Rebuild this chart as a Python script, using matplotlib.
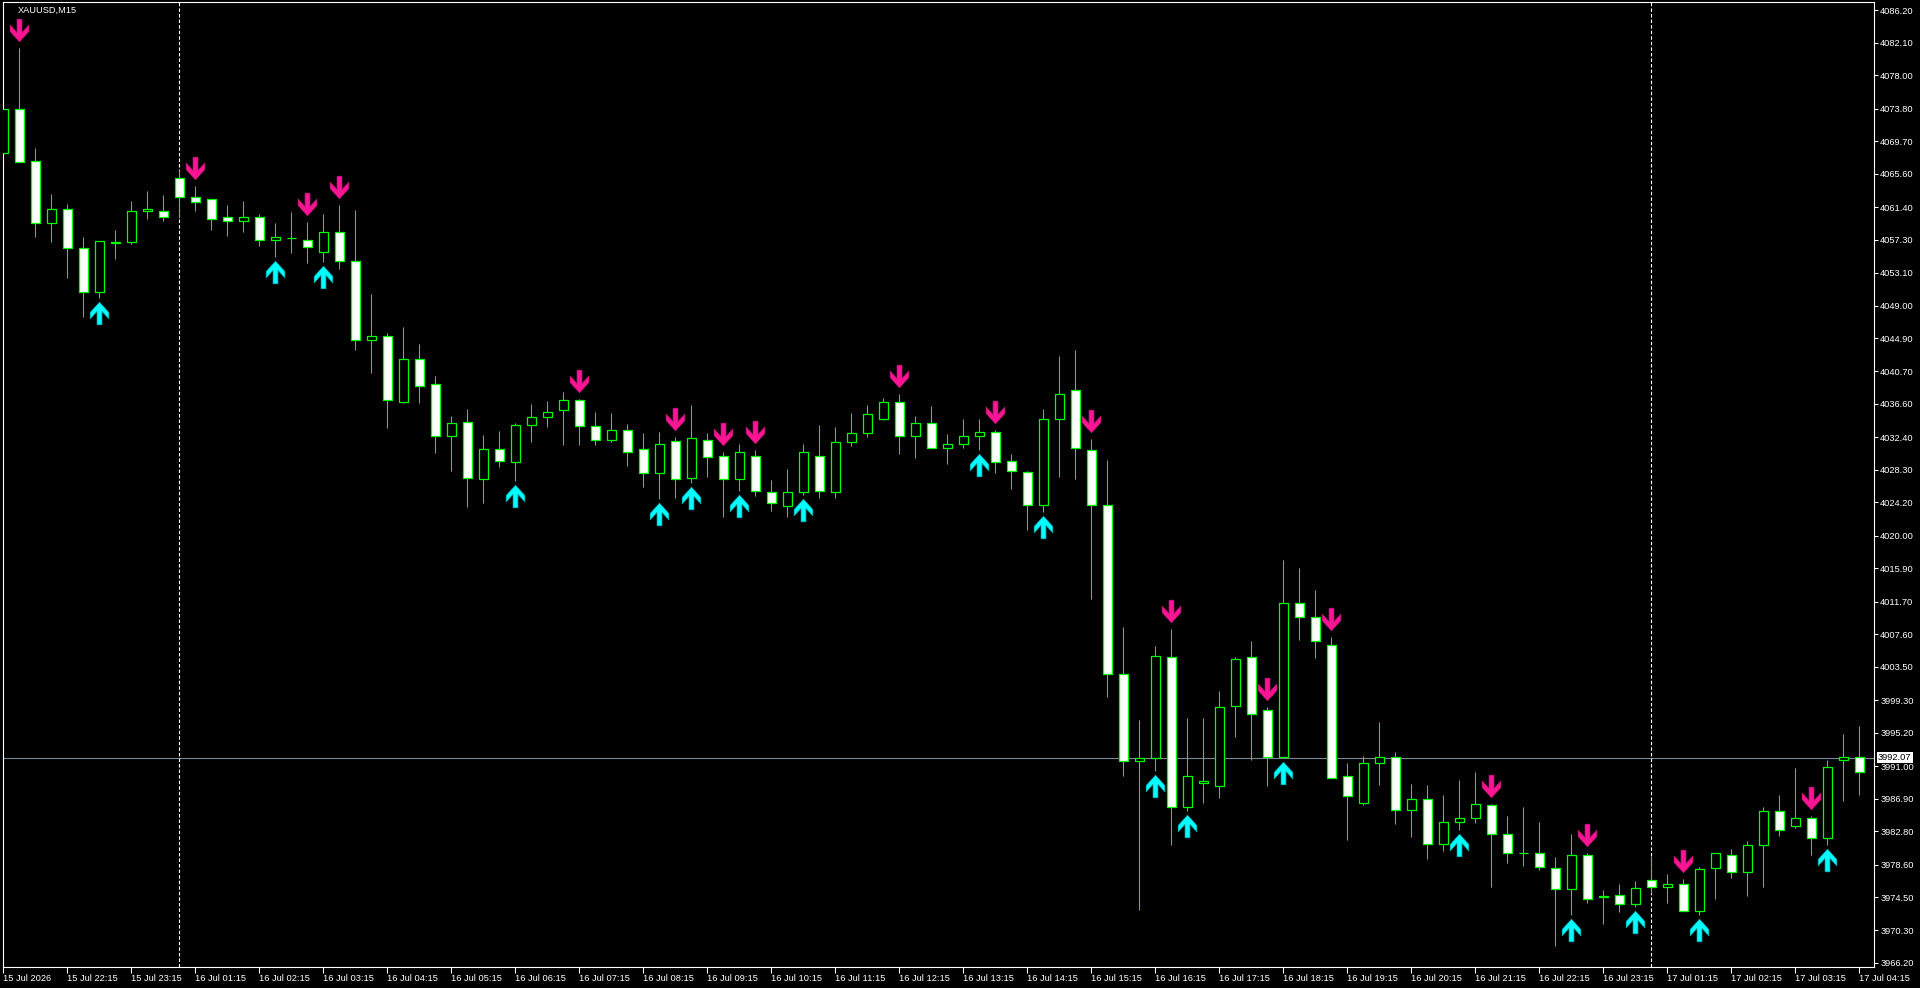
import matplotlib
matplotlib.use('Agg')
import matplotlib.pyplot as plt
import numpy as np
from matplotlib.path import Path
from matplotlib.transforms import offset_copy

plt.rcParams['font.family'] = ['Liberation Sans', 'DejaVu Sans']
plt.rcParams['lines.scale_dashes'] = False

symbol = 'XAUUSD,M15'

# OHLC of the M15 bars
opens = [4068.2, 4073.8, 4067.2, 4059.4, 4061.2, 4056.2, 4050.7, 4056.9, 4057.0, 4060.9,
         4060.9, 4065.0, 4062.7, 4062.4, 4060.1, 4059.7, 4060.2, 4057.3, 4057.5, 4057.3,
         4055.8, 4058.2, 4054.6, 4044.7, 4045.2, 4036.9, 4042.3, 4039.1, 4032.6, 4034.3,
         4027.2, 4030.9, 4029.3, 4034.0, 4035.0, 4035.8, 4037.1, 4033.8, 4032.1, 4033.3,
         4030.9, 4027.9, 4031.9, 4027.3, 4032.1, 4030.0, 4027.1, 4030.0, 4025.5, 4023.8,
         4025.5, 4030.1, 4025.5, 4031.8, 4033.0, 4034.7, 4036.8, 4032.6, 4034.2, 4031.1,
         4031.6, 4032.6, 4033.1, 4029.4, 4028.0, 4023.9, 4034.7, 4038.3, 4030.8, 4023.9,
         4002.6, 3991.6, 3992.0, 4004.7, 3985.8, 3988.9, 3988.5, 3998.6, 4004.7, 3998.1,
         3992.2, 4011.5, 4009.8, 4006.3, 3989.7, 3986.4, 3991.4, 3992.1, 3985.5, 3986.9,
         3981.2, 3983.9, 3984.5, 3986.1, 3982.4, 3980.0, 3980.0, 3978.2, 3975.5, 3979.8,
         3974.5, 3974.8, 3973.6, 3976.7, 3975.8, 3976.1, 3972.7, 3978.1, 3979.8, 3977.7,
         3981.1, 3985.3, 3983.5, 3984.5, 3981.9, 3991.7, 3992.1]
highs = [4074.9, 4081.4, 4068.8, 4063.1, 4061.8, 4057.6, 4057.1, 4058.5, 4062.2, 4063.4,
         4062.9, 4066.1, 4064.1, 4062.4, 4061.7, 4062.2, 4060.5, 4059.4, 4060.8, 4059.5,
         4060.5, 4061.7, 4061.0, 4050.4, 4045.5, 4046.3, 4044.1, 4040.1, 4035.1, 4036.0,
         4032.7, 4033.2, 4034.2, 4036.6, 4037.0, 4038.1, 4037.2, 4035.6, 4035.5, 4034.1,
         4032.9, 4033.1, 4032.4, 4036.5, 4032.9, 4030.5, 4031.5, 4030.8, 4027.0, 4028.4,
         4031.6, 4034.0, 4033.7, 4035.5, 4036.5, 4037.4, 4037.8, 4035.1, 4036.3, 4032.8,
         4034.7, 4034.7, 4033.3, 4030.3, 4028.1, 4036.0, 4042.6, 4043.4, 4032.2, 4029.5,
         4008.5, 3996.8, 4006.1, 4008.2, 3997.0, 3997.1, 4000.5, 4004.7, 4006.7, 3998.5,
         4016.9, 4015.9, 4013.2, 4007.3, 3991.4, 3992.3, 3996.6, 3992.8, 3988.7, 3988.6,
         3987.4, 3989.2, 3990.3, 3986.2, 3984.7, 3985.8, 3983.9, 3979.5, 3982.5, 3980.0,
         3975.4, 3976.1, 3976.5, 3979.7, 3977.4, 3976.8, 3978.3, 3980.1, 3980.5, 3981.5,
         3985.8, 3987.3, 3990.8, 3984.7, 3991.7, 3995.0, 3996.1]
lows = [4066.5, 4067.1, 4057.6, 4057.0, 4052.5, 4047.5, 4050.0, 4054.9, 4056.7, 4059.9,
        4059.6, 4060.0, 4060.9, 4058.5, 4057.8, 4058.3, 4056.5, 4055.1, 4055.6, 4054.3,
        4054.5, 4053.6, 4043.4, 4040.5, 4033.6, 4036.7, 4036.7, 4030.4, 4028.1, 4023.6,
        4024.1, 4028.7, 4026.9, 4031.8, 4033.7, 4031.4, 4031.4, 4031.4, 4031.8, 4028.8,
        4026.2, 4024.6, 4024.7, 4026.6, 4027.4, 4022.4, 4025.7, 4025.0, 4023.1, 4022.4,
        4025.1, 4024.8, 4024.8, 4031.3, 4032.5, 4034.6, 4030.3, 4029.8, 4031.1, 4029.0,
        4031.1, 4030.8, 4027.9, 4025.9, 4020.7, 4023.0, 4027.4, 4027.1, 4012.1, 3999.7,
        3989.8, 3972.9, 3990.4, 3981.0, 3985.3, 3986.3, 3987.0, 3994.6, 3991.7, 3988.5,
        3992.0, 4006.9, 4004.6, 3989.5, 3981.7, 3986.1, 3988.6, 3983.7, 3982.1, 3979.3,
        3980.3, 3982.9, 3983.8, 3975.8, 3978.8, 3978.4, 3977.9, 3968.4, 3972.3, 3973.8,
        3971.1, 3972.6, 3973.3, 3975.0, 3973.8, 3972.7, 3972.3, 3974.2, 3976.9, 3974.6,
        3975.8, 3982.2, 3983.2, 3979.8, 3981.1, 3986.6, 3987.4]
closes = [4073.8, 4067.1, 4059.4, 4061.2, 4056.2, 4050.7, 4057.1, 4057.0, 4060.9, 4061.2,
          4060.1, 4062.7, 4062.1, 4059.9, 4059.7, 4060.1, 4057.2, 4057.6, 4057.5, 4056.4,
          4058.2, 4054.6, 4044.7, 4045.2, 4037.1, 4042.3, 4038.9, 4032.6, 4034.2, 4027.3,
          4030.9, 4029.4, 4034.0, 4035.0, 4035.6, 4037.1, 4033.8, 4032.1, 4033.3, 4030.6,
          4027.9, 4031.5, 4027.2, 4032.3, 4029.9, 4027.1, 4030.5, 4025.7, 4024.1, 4025.5,
          4030.5, 4025.7, 4031.8, 4033.0, 4035.3, 4036.8, 4032.6, 4034.2, 4031.1, 4031.6,
          4032.6, 4033.1, 4029.3, 4028.1, 4023.9, 4034.7, 4037.8, 4031.1, 4023.9, 4002.6,
          3991.6, 3992.0, 4004.9, 3985.8, 3989.7, 3989.1, 3998.5, 4004.5, 3997.6, 3992.2,
          4011.5, 4009.8, 4006.7, 3989.5, 3987.2, 3991.4, 3992.1, 3985.5, 3986.9, 3981.2,
          3983.9, 3984.5, 3986.2, 3982.5, 3980.0, 3980.0, 3978.3, 3975.5, 3979.8, 3974.3,
          3974.6, 3973.6, 3975.6, 3975.8, 3976.1, 3972.7, 3978.0, 3980.0, 3977.7, 3981.1,
          3985.3, 3983.0, 3984.5, 3981.9, 3990.9, 3992.1, 3990.3]

# bars where the indicator printed a signal
up_signals = [6, 17, 20, 32, 41, 43, 46, 50, 61, 65, 72, 74, 80, 91, 98, 102, 106, 114]
down_signals = [1, 12, 19, 21, 36, 42, 45, 47, 56, 62, 68, 73, 79, 83, 93, 99, 105, 113]

day_breaks = [11, 103]
time_labels = ['15 Jul 2026', '15 Jul 22:15', '15 Jul 23:15', '16 Jul 01:15', '16 Jul 02:15',
               '16 Jul 03:15', '16 Jul 04:15', '16 Jul 05:15', '16 Jul 06:15', '16 Jul 07:15',
               '16 Jul 08:15', '16 Jul 09:15', '16 Jul 10:15', '16 Jul 11:15', '16 Jul 12:15',
               '16 Jul 13:15', '16 Jul 14:15', '16 Jul 15:15', '16 Jul 16:15', '16 Jul 17:15',
               '16 Jul 18:15', '16 Jul 19:15', '16 Jul 20:15', '16 Jul 21:15', '16 Jul 22:15',
               '16 Jul 23:15', '17 Jul 01:15', '17 Jul 02:15', '17 Jul 03:15', '17 Jul 04:15']
price_ticks = [4086.20, 4082.10, 4078.00, 4073.80, 4069.70, 4065.60, 4061.40, 4057.30, 4053.10,
               4049.00, 4044.90, 4040.70, 4036.60, 4032.40, 4028.30, 4024.20, 4020.00, 4015.90,
               4011.70, 4007.60, 4003.50, 3999.30, 3995.20, 3991.00, 3986.90, 3982.80, 3978.60,
               3974.50, 3970.30, 3966.20]
last_price = 3992.07

o = np.array(opens)
h = np.array(highs)
l = np.array(lows)
c = np.array(closes)
x = np.arange(len(o))

fig = plt.figure(figsize=(19.2, 9.88), dpi=100, facecolor='black')
ax = fig.add_axes([2.7 / 1920, 21.3 / 988, 1871.3 / 1920, 964.4 / 988])
ax.set_facecolor('black')

# candles: bull = black body, bear = white body, green outline and wicks
green = '#00ff00'
bull = c > o
ax.vlines(x, l, h, color=green, lw=0.75, zorder=2)
ax.bar(x, np.abs(c - o), bottom=np.minimum(o, c), width=0.56,
       color=np.where(bull, 'black', 'white'), edgecolor=green, linewidth=0.9, zorder=3)

# price line + day separators
ax.axhline(last_price, color='#7a8896', lw=0.8, zorder=1)
for d in day_breaks:
    ax.axvline(d, color='white', lw=0.8, ls=(0, (2.5, 1.5)), zorder=1)

# signal arrows (shaft + chevron head)
verts = [(-2.5, 11.5), (2.5, 11.5), (2.5, -2.2), (9.5, 5.5), (9.5, -1.0), (0, -11.5),
         (-9.5, -1.0), (-9.5, 5.5), (-2.5, -2.2), (-2.5, 11.5)]
arrow_down = Path(verts, closed=True)
arrow_up = Path([(vx, -vy) for vx, vy in verts], closed=True)

down_trans = offset_copy(ax.transData, fig=fig, x=0, y=18, units='dots')
up_trans = offset_copy(ax.transData, fig=fig, x=0, y=-15, units='dots')
ax.plot(x[down_signals], h[down_signals], ls='none', marker=arrow_down, ms=16.3,
        mfc='#ff1493', mec='#c0107a', mew=0.5, transform=down_trans, zorder=4)
ax.plot(x[up_signals], l[up_signals], ls='none', marker=arrow_up, ms=16.3,
        mfc='#00ffff', mec='#00a8b0', mew=0.5, transform=up_trans, zorder=4)

ax.set_xlim(-0.0375, 116.92)
ax.set_ylim(3965.73, 4087.19)

ax.yaxis.tick_right()
ax.set_yticks(price_ticks)
ax.set_yticklabels([f'{p:.2f}' for p in price_ticks])
ax.tick_params(axis='y', colors='white', length=3, width=0.75, pad=1.5, labelsize=6.7)

ax.set_xticks(x[::4])
ax.set_xticklabels(time_labels)
ax.tick_params(axis='x', colors='white', length=4, width=0.75, pad=1.2, labelsize=6.7)
for t in ax.get_xticklabels():
    t.set_ha('left')

for s in ax.spines.values():
    s.set_color('white')
    s.set_linewidth(0.8)

# current price tag on the scale
ax.annotate(f'{last_price:.2f}', xy=(1, last_price), xycoords=('axes fraction', 'data'),
            xytext=(4, 0), textcoords='offset pixels', va='center', ha='left',
            color='black', fontsize=6.7,
            bbox=dict(boxstyle='square,pad=0.15', fc='white', ec='none'),
            annotation_clip=False, zorder=10)

fig.text(17.7 / 1920, 1 - 10.7 / 988, symbol, color='white', fontsize=6.7,
         ha='left', va='center')

fig.savefig('out.png', dpi=100, facecolor='black')
